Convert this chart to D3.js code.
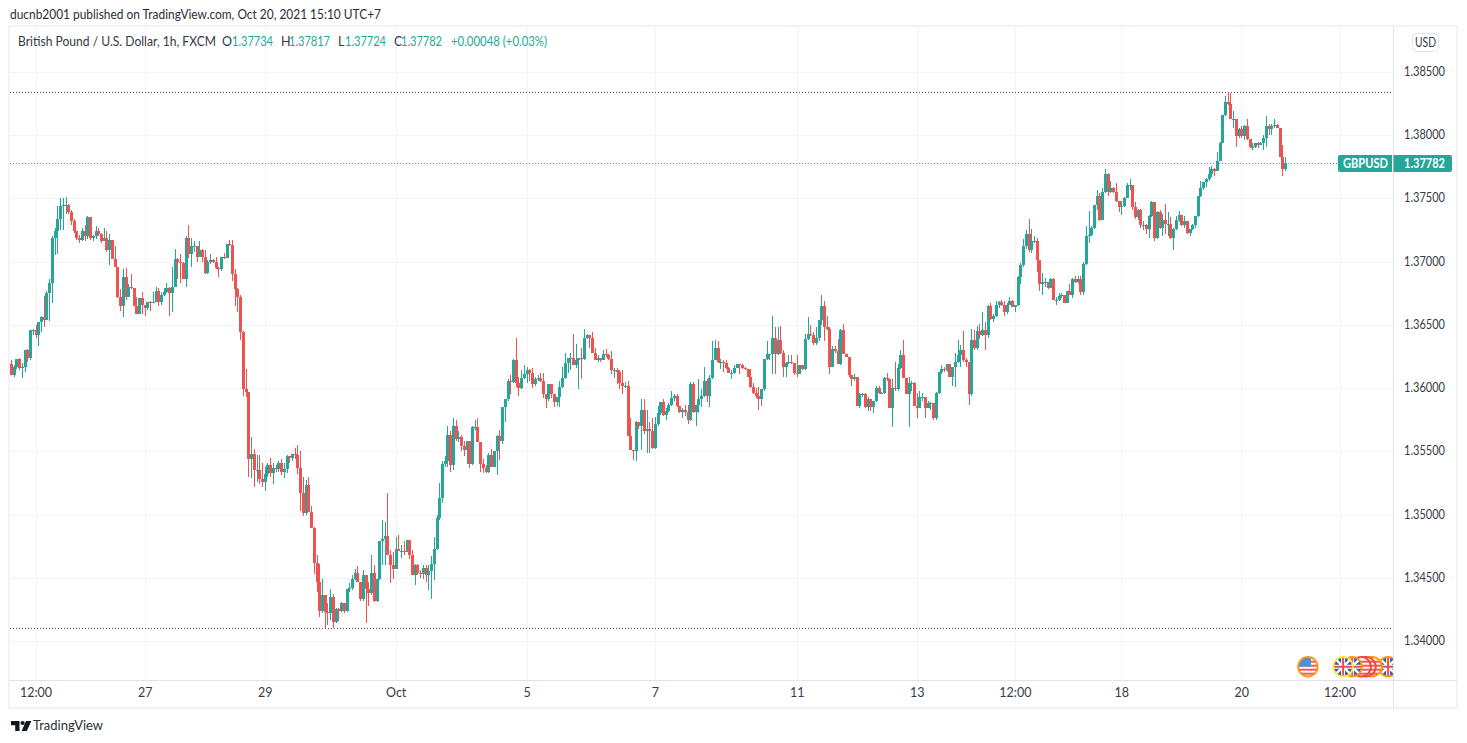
<!DOCTYPE html>
<html><head><meta charset="utf-8">
<script src="https://cdnjs.cloudflare.com/ajax/libs/d3/7.8.5/d3.min.js"></script>
<style>html,body{margin:0;padding:0;background:#fff;overflow:hidden}svg{display:block}text{font-family:Lato,"Noto Sans",sans-serif}</style>
</head><body><svg id="c" width="1467" height="743"></svg>
<script>
// Prices in pips (value / 10000 = price). One entry per hourly candle.
const firstOpen = 13619;
const closes = [
13610,13617,13623,13616,13617,13630,13624,13646,13646,13642,
13652,13656,13654,13675,13683,13719,13724,13734,13744,13745,
13745,13739,13732,13724,13719,13717,13724,13720,13735,13719,
13720,13724,13722,13716,13719,13709,13717,13702,13696,13672,
13665,13688,13672,13680,13679,13665,13659,13671,13666,13663,
13668,13667,13668,13677,13668,13674,13676,13679,13675,13680,
13702,13700,13699,13686,13719,13706,13712,13712,13704,13709,
13704,13691,13700,13701,13700,13695,13694,13704,13703,13714,
13713,13690,13678,13672,13644,13599,13597,13544,13548,13535,
13535,13528,13526,13532,13539,13533,13537,13536,13541,13534,
13536,13546,13545,13548,13547,13537,13517,13501,13523,13502,
13489,13462,13447,13424,13436,13423,13422,13435,13415,13425,
13424,13430,13424,13441,13442,13449,13454,13447,13433,13452,
13441,13438,13454,13432,13449,13479,13481,13483,13468,13460,
13457,13473,13471,13471,13470,13480,13468,13452,13460,13454,
13453,13458,13452,13455,13461,13473,13497,13513,13540,13542,
13563,13539,13570,13560,13561,13554,13551,13558,13540,13569,
13569,13557,13540,13537,13534,13547,13538,13550,13562,13558,
13585,13591,13606,13605,13622,13604,13600,13608,13611,13614,
13612,13603,13607,13608,13606,13595,13591,13603,13595,13589,
13593,13601,13608,13620,13624,13624,13618,13622,13624,13623,
13640,13642,13640,13628,13622,13624,13622,13627,13626,13623,
13614,13614,13613,13604,13602,13602,13562,13551,13550,13573,
13570,13583,13566,13568,13566,13553,13572,13580,13589,13579,
13582,13587,13592,13594,13586,13581,13583,13581,13575,13603,
13581,13587,13591,13594,13606,13594,13608,13622,13632,13621,
13621,13620,13616,13612,13612,13616,13619,13618,13616,13615,
13609,13601,13596,13594,13591,13599,13623,13627,13627,13640,
13627,13638,13628,13617,13620,13621,13620,13612,13611,13618,
13615,13639,13643,13642,13636,13640,13654,13665,13648,13647,
13617,13631,13629,13619,13646,13627,13625,13610,13607,13609,
13586,13595,13595,13585,13591,13585,13590,13600,13596,13596,
13608,13607,13584,13600,13599,13616,13626,13608,13595,13604,
13604,13586,13584,13593,13593,13584,13588,13588,13576,13596,
13613,13615,13614,13619,13609,13617,13621,13626,13630,13622,
13621,13595,13638,13632,13645,13642,13646,13642,13665,13655,
13657,13666,13668,13666,13660,13666,13669,13664,13666,13688,
13697,13712,13722,13709,13716,13716,13701,13682,13684,13684,
13679,13686,13670,13670,13673,13674,13667,13677,13674,13686,
13684,13686,13676,13698,13720,13721,13727,13745,13752,13733,
13755,13769,13755,13758,13755,13748,13743,13744,13750,13761,
13761,13743,13735,13741,13729,13729,13726,13736,13747,13719,
13739,13727,13733,13730,13730,13719,13726,13733,13737,13729,
13732,13723,13726,13729,13736,13752,13758,13763,13765,13769,
13773,13772,13780,13794,13816,13826,13825,13813,13813,13799,
13805,13799,13807,13797,13791,13791,13794,13792,13794,13798,
13807,13805,13807,13808,13806,13783,13773,13778];
const highs = [
13622,13618,13623,13624,13620,13630,13631,13646,13647,13650,
13652,13657,13673,13677,13686,13720,13727,13744,13750,13750,
13751,13746,13741,13734,13724,13721,13727,13729,13736,13735,
13721,13728,13727,13723,13727,13724,13722,13717,13712,13696,
13678,13694,13695,13682,13690,13679,13672,13671,13676,13666,
13668,13669,13676,13680,13679,13676,13679,13683,13680,13696,
13710,13703,13706,13700,13720,13729,13719,13716,13707,13716,
13710,13709,13701,13706,13702,13704,13696,13704,13707,13714,
13717,13717,13694,13679,13674,13645,13615,13597,13561,13552,
13547,13547,13541,13538,13541,13545,13541,13539,13542,13544,
13541,13547,13546,13548,13553,13555,13550,13530,13527,13530,
13507,13490,13468,13461,13449,13436,13430,13441,13437,13426,
13426,13431,13430,13441,13446,13452,13457,13459,13447,13456,
13452,13447,13468,13460,13449,13479,13496,13494,13517,13472,
13470,13482,13484,13476,13479,13480,13480,13472,13461,13461,
13456,13460,13460,13460,13467,13482,13500,13525,13542,13546,
13570,13566,13576,13575,13566,13563,13558,13558,13558,13570,
13575,13576,13557,13544,13539,13549,13552,13550,13563,13567,
13585,13591,13607,13610,13623,13640,13609,13614,13618,13617,
13615,13616,13609,13610,13612,13612,13595,13603,13603,13595,
13593,13606,13617,13628,13624,13628,13643,13635,13624,13632,
13647,13643,13641,13644,13632,13626,13624,13630,13631,13627,
13629,13616,13616,13614,13614,13605,13606,13576,13551,13574,
13573,13591,13591,13583,13573,13576,13577,13586,13589,13591,
13584,13588,13598,13595,13595,13586,13584,13587,13587,13605,
13605,13587,13607,13599,13617,13607,13610,13637,13638,13637,
13623,13622,13622,13617,13614,13618,13619,13619,13619,13617,
13615,13615,13604,13600,13601,13599,13623,13637,13627,13657,
13648,13648,13649,13630,13621,13626,13626,13620,13626,13618,
13618,13643,13656,13650,13644,13648,13654,13674,13669,13657,
13648,13633,13633,13639,13647,13651,13627,13625,13610,13611,
13609,13596,13596,13596,13593,13591,13590,13602,13602,13597,
13609,13612,13607,13607,13621,13619,13630,13638,13608,13609,
13606,13605,13596,13598,13596,13593,13590,13589,13588,13597,
13613,13618,13617,13619,13619,13617,13628,13638,13634,13645,
13624,13621,13647,13646,13649,13651,13660,13652,13666,13667,
13659,13669,13669,13670,13669,13667,13672,13670,13666,13689,
13699,13718,13725,13734,13726,13720,13719,13701,13691,13687,
13684,13687,13687,13672,13675,13675,13674,13677,13682,13687,
13689,13689,13689,13700,13728,13740,13728,13745,13757,13754,
13758,13773,13770,13764,13759,13762,13748,13748,13751,13762,
13765,13761,13747,13742,13742,13732,13730,13737,13748,13747,
13740,13741,13738,13746,13739,13735,13727,13736,13740,13737,
13736,13732,13726,13730,13736,13752,13764,13763,13766,13775,
13776,13774,13787,13795,13816,13831,13834,13833,13819,13813,
13806,13807,13808,13813,13797,13794,13794,13795,13795,13800,
13815,13809,13809,13813,13809,13806,13792,13783];
const lows = [
13610,13609,13615,13614,13608,13613,13621,13622,13642,13640,
13633,13644,13648,13654,13653,13667,13705,13706,13725,13725,
13738,13738,13729,13723,13717,13715,13716,13716,13718,13717,
13716,13718,13720,13715,13716,13708,13697,13702,13696,13671,
13661,13656,13670,13672,13678,13665,13659,13659,13659,13657,
13662,13661,13667,13668,13665,13666,13673,13675,13657,13660,
13680,13686,13683,13686,13680,13703,13696,13708,13700,13705,
13700,13690,13690,13698,13699,13694,13688,13693,13702,13703,
13712,13685,13665,13660,13638,13594,13593,13530,13529,13522,
13526,13524,13522,13519,13530,13530,13524,13534,13534,13531,
13529,13533,13541,13542,13544,13532,13503,13499,13500,13502,
13489,13453,13439,13419,13422,13410,13413,13417,13410,13414,
13416,13423,13422,13423,13439,13440,13448,13447,13432,13432,
13414,13428,13436,13431,13431,13448,13460,13460,13468,13446,
13449,13457,13471,13466,13468,13470,13465,13452,13444,13452,
13450,13449,13447,13440,13433,13448,13472,13496,13509,13538,
13538,13534,13535,13558,13557,13550,13546,13540,13537,13539,
13567,13557,13534,13533,13533,13533,13538,13538,13531,13543,
13556,13573,13590,13595,13604,13601,13594,13599,13607,13604,
13606,13600,13602,13606,13605,13592,13584,13590,13592,13585,
13586,13585,13600,13607,13612,13614,13618,13616,13599,13607,
13622,13639,13632,13628,13622,13621,13621,13622,13625,13622,
13611,13608,13603,13599,13595,13600,13562,13551,13543,13542,
13568,13551,13564,13549,13549,13552,13552,13570,13579,13578,
13575,13581,13586,13590,13585,13580,13576,13578,13572,13574,
13580,13570,13580,13585,13593,13589,13585,13607,13622,13620,
13615,13613,13615,13612,13607,13611,13616,13611,13615,13614,
13609,13600,13595,13592,13583,13586,13598,13622,13622,13611,
13611,13626,13627,13609,13609,13619,13619,13610,13609,13611,
13614,13614,13638,13641,13634,13634,13637,13650,13637,13646,
13611,13617,13628,13619,13618,13627,13625,13609,13602,13606,
13586,13584,13593,13584,13582,13582,13580,13589,13595,13595,
13595,13606,13584,13569,13598,13598,13615,13608,13595,13569,
13598,13586,13576,13584,13590,13576,13584,13583,13575,13575,
13595,13611,13613,13613,13609,13602,13601,13620,13617,13621,
13617,13587,13594,13630,13630,13639,13641,13630,13640,13654,
13652,13656,13663,13665,13657,13659,13666,13664,13660,13665,
13682,13696,13710,13708,13707,13715,13692,13677,13674,13680,
13678,13679,13670,13666,13669,13671,13667,13667,13674,13671,
13683,13683,13674,13674,13697,13715,13720,13726,13741,13732,
13733,13754,13752,13754,13754,13747,13739,13737,13743,13750,
13757,13741,13734,13733,13727,13725,13722,13719,13735,13716,
13718,13726,13720,13722,13720,13718,13709,13725,13731,13728,
13727,13722,13720,13725,13727,13735,13751,13757,13759,13764,
13767,13768,13772,13780,13794,13815,13824,13813,13806,13791,
13798,13798,13796,13796,13790,13788,13790,13790,13792,13788,
13791,13800,13800,13806,13806,13783,13768,13772];
const opens = closes.map((c, i) => i ? closes[i - 1] : firstOpen);

const priceTicks = [1.34,1.345,1.35,1.355,1.36,1.365,1.37,1.375,1.38,1.385];
const timeTickBars = [9,49,93,141,189,236,288,332,368,407,451,487];
const timeTickLabels = ["12:00","27","29","Oct","5","7","11","13","12:00","18","20","12:00"];
const levelPrices = [1.3834,1.341];
const lastClose = 1.37782;
const eventBars = [504.8,498.9,496.7,494.9,491.6,488.3,475.4];
const eventFlags = ["uk","o","r","r","uk","uk-y","us"];

const svg = d3.select("#c");
const L = 10, R = 1393, T = 27, B = 680, OR = 1457, OB = 708;
const x = d3.scaleLinear().domain([0, closes.length - 1]).range([11, 1285]);
const y = d3.scaleLinear().domain([1.34, 1.385]).range([641, 72]);
const snap = v => Math.round(v) + 0.5;
const UP = "#26a69a", DOWN = "#ef5350", GRID = "#f0f3fa", EDGE = "#e0e3eb", INK = "#131722", AX = "#363a45";
const FONT = 'Lato,"Noto Sans",sans-serif';

const defs = svg.append("defs");
defs.append("clipPath").attr("id","plot").append("rect").attr("x",L).attr("y",T).attr("width",R-L).attr("height",B-T);

// grid via axes
const gridG = svg.append("g").attr("shape-rendering","crispEdges");
const vGrid = gridG.append("g").attr("transform",`translate(0,${B})`)
  .call(d3.axisBottom(x).tickValues(timeTickBars).tickSize(-(B-T)).tickFormat(""));
vGrid.select(".domain").remove();
vGrid.selectAll(".tick line").attr("stroke",GRID);
const hGrid = gridG.append("g").attr("transform",`translate(${L},0)`)
  .call(d3.axisRight(y).tickValues(priceTicks).tickSize(R-L).tickFormat(""));
hGrid.select(".domain").remove();
hGrid.selectAll(".tick line").attr("stroke",GRID);

// level lines
const lvl = svg.append("g").attr("shape-rendering","crispEdges");
lvl.selectAll("line.l").data(levelPrices).join("line").attr("class","l")
  .attr("x1",L).attr("x2",R).attr("y1",d=>snap(y(d))).attr("y2",d=>snap(y(d)))
  .attr("stroke","#50535e").attr("stroke-dasharray","1 2");
lvl.append("line").attr("x1",L).attr("x2",1338).attr("y1",snap(y(lastClose))).attr("y2",snap(y(lastClose)))
  .attr("stroke",UP).attr("stroke-dasharray","1 2");

// candles
const idx = d3.range(closes.length);
const colour = i => closes[i] >= opens[i] ? UP : DOWN;
const py = v => y(v / 10000);
const pl = svg.append("g").attr("clip-path","url(#plot)").attr("shape-rendering","crispEdges");
pl.selectAll("rect.w").data(idx).join("rect").attr("class","w")
  .attr("x",i=>Math.round(x(i))).attr("width",1)
  .attr("y",i=>py(highs[i])).attr("height",i=>Math.max(1,py(lows[i])-py(highs[i])))
  .attr("fill",colour);
pl.selectAll("rect.b").data(idx).join("rect").attr("class","b")
  .attr("x",i=>Math.round(x(i))-1).attr("width",3)
  .attr("y",i=>py(Math.max(opens[i],closes[i])))
  .attr("height",i=>Math.max(1,Math.abs(py(opens[i])-py(closes[i]))))
  .attr("fill",colour);

// event badges
let flagId = 0;
const flag = (g, kind, r) => {
  const id = "f" + (flagId++);
  g.append("clipPath").attr("id",id).append("circle").attr("r",r);
  const f = g.append("g").attr("clip-path",`url(#${id})`);
  f.append("circle").attr("r",r).attr("fill","#fff");
  if (kind === "us") {
    [-6,-2,2,6].forEach(s=>f.append("rect").attr("x",-r).attr("y",s).attr("width",2*r).attr("height",2).attr("fill","#f15b5b"));
    f.append("rect").attr("x",-r).attr("y",-r).attr("width",r+3).attr("height",r).attr("fill","#4a90e2");
  } else if (kind.startsWith("uk")) {
    f.append("rect").attr("x",-r).attr("y",-r).attr("width",2*r).attr("height",2*r).attr("fill","#2f5bb0");
    f.append("path").attr("d",`M${-r},${-r}L${r},${r}M${r},${-r}L${-r},${r}`).attr("stroke","#fff").attr("stroke-width",2.4);
    f.append("path").attr("d",`M0,${-r}V${r}M${-r},0H${r}`).attr("stroke","#fff").attr("stroke-width",4);
    f.append("path").attr("d",`M0,${-r}V${r}M${-r},0H${r}`).attr("stroke","#ef4d4d").attr("stroke-width",2);
  } else {
    [-6,-2,2,6].forEach(s=>f.append("rect").attr("x",-r).attr("y",s).attr("width",2*r).attr("height",2).attr("fill","#f15b5b"));
  }
  const ring = kind==="uk-y" ? "#ffeb3b" : kind==="r" ? "#f44336" : "#ff9800";
  g.append("circle").attr("r",r).attr("fill","none").attr("stroke",ring).attr("stroke-width",1.8);
};
const ev = svg.append("g").attr("clip-path","url(#plot)");
eventBars.forEach((b,k) => {
  flag(ev.append("g").attr("transform",`translate(${x(b)},666.7)`), eventFlags[k], 9.8);
});

// frame
const fr = svg.append("g").attr("shape-rendering","crispEdges").attr("fill","none");
fr.append("rect").attr("x",9).attr("y",26).attr("width",OR-9).attr("height",OB-26).attr("stroke",GRID).attr("stroke-width",2);
fr.append("line").attr("x1",R+.5).attr("x2",R+.5).attr("y1",27).attr("y2",OB).attr("stroke",EDGE);
fr.append("line").attr("x1",L).attr("x2",OR).attr("y1",B+.5).attr("y2",B+.5).attr("stroke",EDGE);

// axes labels
const yAxis = svg.append("g").attr("transform",`translate(${R},-0.5)`)
  .call(d3.axisRight(y).tickValues(priceTicks).tickSize(0).tickPadding(11).tickFormat(d3.format(".5f")));
yAxis.select(".domain").remove();
yAxis.selectAll("text").attr("font-size",12.5).attr("fill",AX).attr("textLength",41).attr("lengthAdjust","spacingAndGlyphs").style("font-family",FONT);
const xAxis = svg.append("g").attr("transform",`translate(0,${B})`)
  .call(d3.axisBottom(x).tickValues(timeTickBars).tickSize(0).tickPadding(8).tickFormat((d,i)=>timeTickLabels[i]));
xAxis.select(".domain").remove();
xAxis.selectAll("text").attr("font-size",12.5).attr("fill",AX).style("font-family",FONT);

// texts
const txt = (s,xx,yy,opt={}) => {
  const t = svg.append("text").attr("x",xx).attr("y",yy).attr("font-size",opt.size||12.5)
    .attr("fill",opt.fill||INK).text(s);
  if (opt.len) t.attr("textLength",opt.len).attr("lengthAdjust","spacingAndGlyphs");
  if (opt.anchor) t.attr("text-anchor",opt.anchor);
  if (opt.weight) t.attr("font-weight",opt.weight);
  return t;
};
txt("ducnb2001 published on TradingView.com, Oct 20, 2021 15:10 UTC+7",10,19,{len:371,fill:"#2a2e39"});
txt("British Pound / U.S. Dollar, 1h, FXCM",18,46,{len:198,fill:AX});
const ohlcKeys = ["O","H","L","C"], ohlcVals = ["1.37734","1.37817","1.37724","1.37782"];
const keyX = [222,281,338,394], valX = [232,289,345,401];
ohlcKeys.forEach((k,i)=>{ txt(k,keyX[i],46,{fill:AX}); txt(ohlcVals[i],valX[i],46,{fill:UP,len:41}); });
txt("+0.00048 (+0.03%)",451,46,{fill:UP,len:96});

// USD badge
svg.append("rect").attr("x",1412.5).attr("y",33.5).attr("width",26).attr("height",18).attr("rx",4)
  .attr("fill","#fff").attr("stroke",EDGE);
txt("USD",1425.5,47,{anchor:"middle",fill:AX,size:12.5,len:21});

// last price labels
const ly = Math.round(y(lastClose)) + 0.5;
svg.append("path").attr("fill",UP)
  .attr("d",`M1340,${ly-8.5}H1392V${ly+8.5}H1340Q1338,${ly+8.5} 1338,${ly+6.5}V${ly-6.5}Q1338,${ly-8.5} 1340,${ly-8.5}Z`);
svg.append("path").attr("fill",UP)
  .attr("d",`M1393.5,${ly-8.5}H1450Q1452,${ly-8.5} 1452,${ly-6.5}V${ly+6.5}Q1452,${ly+8.5} 1450,${ly+8.5}H1393.5Z`);
txt("GBPUSD",1365.5,ly+4.5,{anchor:"middle",fill:"#fff",weight:700,len:45});
txt("1.37782",1424.5,ly+4.5,{anchor:"middle",fill:"#fff",weight:700,len:41});

// footer logo
const logo = svg.append("g").attr("transform","translate(11,720)").attr("fill",INK);
logo.append("path").attr("d","M0,1H8.5V11H4.2V5.2H0Z");
logo.append("circle").attr("cx",11.6).attr("cy",3).attr("r",2.1);
logo.append("path").attr("d","M15,1H20.4L15.8,11H10.6Z");
txt("TradingView",33,730,{size:13,fill:"#2a2e39",len:70});
</script></body></html>
